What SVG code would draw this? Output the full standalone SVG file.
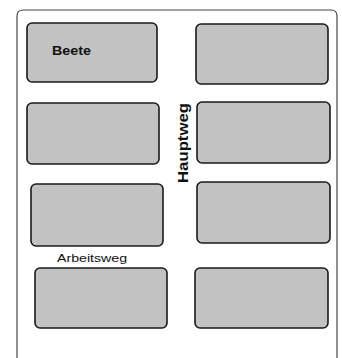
<svg xmlns="http://www.w3.org/2000/svg" width="342" height="358" viewBox="0 0 342 358">
<style>
.bed{fill:#c2c2c2;stroke:#1a1a1a;stroke-width:1.6}
.lbl{font-family:"Liberation Sans",Arial,sans-serif;fill:#111}
</style>
<rect width="342" height="358" fill="#fff"/>
<path d="M17,358 V16 Q17,10 23,10 H331 Q337,10 337,16 V358" fill="none" stroke="#444" stroke-width="1.2"/>
<g id="bed1"><rect class="bed" x="27" y="23" width="130" height="59" rx="5"/><text class="lbl" x="52" y="55" font-size="13" font-weight="bold" textLength="39" lengthAdjust="spacingAndGlyphs">Beete</text></g>
<g id="bed2"><rect class="bed" x="196" y="24" width="132" height="60" rx="5"/></g>
<g id="bed3"><rect class="bed" x="27" y="103" width="132" height="61" rx="5"/></g>
<g id="bed4"><rect class="bed" x="197" y="102" width="133" height="61" rx="5"/></g>
<g id="bed5"><rect class="bed" x="31" y="184" width="132" height="62" rx="5"/></g>
<g id="bed6"><rect class="bed" x="197" y="182" width="133" height="61" rx="5"/></g>
<g id="bed7"><rect class="bed" x="35" y="268" width="132" height="60" rx="5"/></g>
<g id="bed8"><rect class="bed" x="195" y="268" width="133" height="60" rx="5"/></g>
<g id="hauptweg"><text class="lbl" transform="translate(188,183) rotate(-90)" font-size="15" font-weight="bold" textLength="80" lengthAdjust="spacingAndGlyphs">Hauptweg</text></g>
<g id="arbeitsweg"><text class="lbl" x="57" y="262" font-size="10" textLength="70" lengthAdjust="spacingAndGlyphs">Arbeitsweg</text></g>
<g id="connectors"></g>
</svg>
